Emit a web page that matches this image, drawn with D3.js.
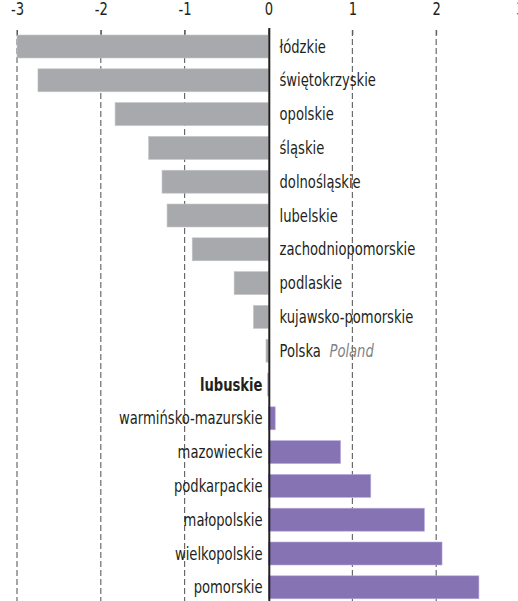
<!DOCTYPE html>
<html>
<head>
<meta charset="utf-8">
<script src="https://cdn.jsdelivr.net/npm/d3@7"></script>
<style>
  html, body { margin: 0; padding: 0; background: #fff; }
  svg { display: block; }
  text { font-family: "DejaVu Sans Condensed", "Liberation Sans Narrow", "Roboto", sans-serif; }
</style>
</head>
<body>
<svg id="chart" width="518" height="601"></svg>
<script>
const regions = ["łódzkie","świętokrzyskie","opolskie","śląskie","dolnośląskie","lubelskie","zachodniopomorskie","podlaskie","kujawsko-pomorskie","Polska","lubuskie","warmińsko-mazurskie","mazowieckie","podkarpackie","małopolskie","wielkopolskie","pomorskie"];
const values = [-3.00,-2.75,-1.83,-1.43,-1.27,-1.21,-0.91,-0.41,-0.18,-0.03,-0.01,0.08,0.86,1.22,1.86,2.07,2.51];
const tickValues = [-3,-2,-1,0,1,2,3];
const tickLabels = ["-3","-2","-1","0","1","2","3"];
const nationalName = "Polska";
const nationalNameEn = "Poland";
const highlighted = "lubuskie";

const data = regions.map((r, i) => ({ name: r, value: values[i] }));
const national = data.find(d => d.name === nationalName).value;

const W = 518, H = 601;
const SX = 0.86;
const svg = d3.select("#chart");

const x = d3.scaleLinear().domain([-3, 3]).range([17, 520]);
const y = d3.scaleBand().domain(regions).range([29.6, 604.2]).paddingInner(0.32).paddingOuter(0.16);

const grey = "#a7a9ac", purple = "#8573b4", ink = "#231f20";

// gridlines
svg.append("g").selectAll("line")
  .data(tickValues.filter(t => t !== 0))
  .join("line")
  .attr("x1", d => x(d)).attr("x2", d => x(d))
  .attr("y1", 30).attr("y2", H)
  .attr("stroke", "#4d4d4f").attr("stroke-width", 1)
  .attr("stroke-dasharray", "6,3");

// top axis ticks and labels
const axis = d3.axisTop(x).tickValues(tickValues).tickSize(5).tickPadding(15)
  .tickFormat((d, i) => tickLabels[i]);
const ag = svg.append("g").attr("transform", "translate(0,35)").call(axis);
ag.select(".domain").remove();
ag.selectAll(".tick line").attr("stroke", "#58595b");
ag.selectAll(".tick text").attr("fill", ink).style("font-size", "17px")
  .style("font-family", '"DejaVu Sans Condensed", sans-serif')
  .attr("transform", `scale(${SX},1)`);

// bars
svg.append("g").selectAll("rect")
  .data(data)
  .join("rect")
  .attr("x", d => Math.min(x(d.value), x(0)))
  .attr("width", d => Math.abs(x(d.value) - x(0)))
  .attr("y", d => y(d.name))
  .attr("height", y.bandwidth())
  .attr("fill", d => d.value > national ? purple : grey)
  .attr("stroke", d => d.value > national ? "#b9acdc" : "#c4c6c8")
  .attr("stroke-width", 0.6);

// zero line
svg.append("line")
  .attr("x1", x(0) + 0.8).attr("x2", x(0) + 0.8)
  .attr("y1", 28).attr("y2", H)
  .attr("stroke", ink).attr("stroke-width", 2);

// labels
const lg = svg.append("g");
data.forEach(d => {
  const cy = y(d.name) + y.bandwidth() / 2;
  const right = d.value <= national;
  const x0 = right ? x(0) + 11 : x(0) - 6;
  const t = lg.append("text")
    .attr("transform", `translate(${x0},${cy}) scale(${SX},1)`)
    .attr("dy", "0.36em")
    .attr("text-anchor", right ? "start" : "end")
    .attr("fill", ink)
    .style("font-size", "17px")
    .style("font-weight", d.name === highlighted ? "bold" : "normal");
  t.append("tspan").text(d.name);
  if (d.name === nationalName) {
    t.append("tspan").attr("dx", 10).attr("fill", "#808285").style("font-style", "italic").text(nationalNameEn);
  }
});
</script>
</body>
</html>
